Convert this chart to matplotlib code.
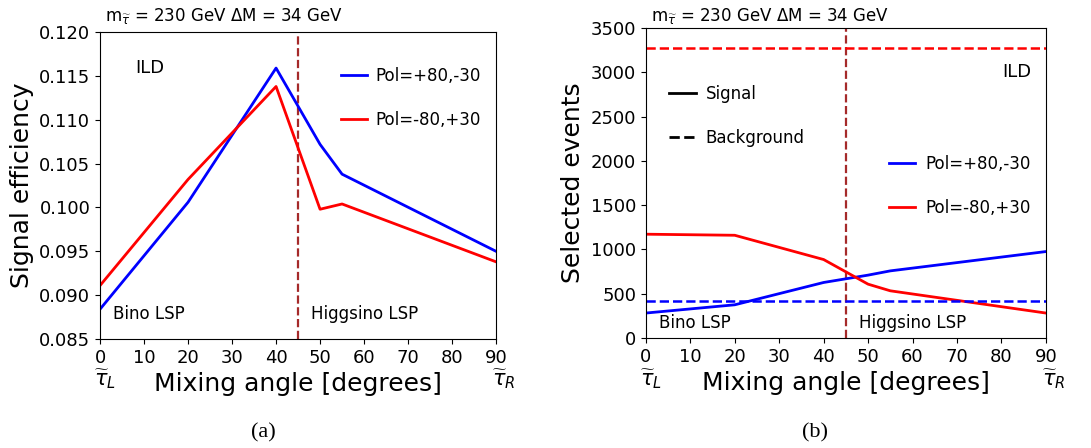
import matplotlib.pyplot as plt
import matplotlib.transforms as mtransforms
import numpy as np

angle = [0, 20, 40, 50, 55, 90]

# signal efficiency
eff_pos = [0.0884, 0.1006, 0.1159, 0.1072, 0.1038, 0.0950]
eff_neg = [0.0911, 0.1032, 0.1138, 0.0998, 0.1004, 0.0938]

# selected events
sig_pos = [282, 375, 627, 710, 758, 976]
sig_neg = [1172, 1160, 886, 608, 533, 282]
bkg_pos = 413
bkg_neg = 3275

lsp_border = 45
xtick_vals = np.arange(0, 91, 10)
eff_ticks = np.arange(0.085, 0.1201, 0.005)
evt_ticks = np.arange(0, 3501, 500)
title = "m$_{\\widetilde{\\tau}}$ = 230 GeV $\\Delta$M = 34 GeV"

fig = plt.figure(figsize=(10.91, 4.48), dpi=100)
ax1 = fig.add_axes([0.0917, 0.2433, 0.363, 0.685])
ax2 = fig.add_axes([0.592, 0.2455, 0.3666, 0.692])

for ax in (ax1, ax2):
    ax.axvline(lsp_border, color="#a52a2a", ls="--", lw=1.6)
    ax.set_xlim(0, 90)
    ax.set_xticks(xtick_vals)
    ax.tick_params(labelsize=13)
    ax.set_xlabel("Mixing angle [degrees]", fontsize=18, labelpad=4)
    # stau chirality states under the axis ends
    trans = mtransforms.blended_transform_factory(ax.transData, ax.transAxes)
    ax.text(1.1, -0.132, "$\\widetilde{\\tau}_L$", fontsize=15, ha="center", va="center", transform=trans)
    ax.text(91.8, -0.132, "$\\widetilde{\\tau}_R$", fontsize=15, ha="center", va="center", transform=trans)

fig.text(0.0963, 0.964, title, fontsize=12, va="center")
fig.text(0.5967, 0.964, title, fontsize=12, va="center")

# (a) efficiency
ax1.plot(angle, eff_pos, color="blue", lw=2, label="Pol=+80,-30")
ax1.plot(angle, eff_neg, color="red", lw=2, label="Pol=-80,+30")
ax1.set_ylim(0.085, 0.120)
ax1.set_yticks(eff_ticks)
ax1.set_yticklabels(["%.3f" % v for v in eff_ticks])
ax1.set_ylabel("Signal efficiency", fontsize=18, labelpad=4)
ax1.text(8, 0.1153, "ILD", fontsize=13)
ax1.text(3, 0.0873, "Bino LSP", fontsize=12)
ax1.text(48, 0.0873, "Higgsino LSP", fontsize=12)
ax1.legend(loc="upper right", frameon=False, fontsize=12, labelspacing=1.55,
           handlelength=1.6, handletextpad=0.5, bbox_to_anchor=(1.0, 0.936))

# (b) selected events
ax2.plot(angle, sig_pos, color="blue", lw=2)
ax2.plot(angle, sig_neg, color="red", lw=2)
ax2.axhline(bkg_pos, color="blue", ls="--", lw=1.8)
ax2.axhline(bkg_neg, color="red", ls="--", lw=1.8)
ax2.set_ylim(0, 3500)
ax2.set_yticks(evt_ticks)
ax2.set_ylabel("Selected events", fontsize=18, labelpad=4)
ax2.text(83.5, 3000, "ILD", fontsize=13, ha="center", va="center")
ax2.text(3, 110, "Bino LSP", fontsize=12)
ax2.text(48, 110, "Higgsino LSP", fontsize=12)

h_sig, = ax2.plot([], [], color="black", lw=2, label="Signal")
h_bkg, = ax2.plot([], [], color="black", ls="--", lw=2, label="Background")
leg1 = ax2.legend(handles=[h_sig, h_bkg], loc="upper left", frameon=False, fontsize=12,
                  labelspacing=1.55, handlelength=1.6, handletextpad=0.6,
                  bbox_to_anchor=(0.02, 0.864))
ax2.add_artist(leg1)
h_pos, = ax2.plot([], [], color="blue", lw=2, label="Pol=+80,-30")
h_neg, = ax2.plot([], [], color="red", lw=2, label="Pol=-80,+30")
ax2.legend(handles=[h_pos, h_neg], loc="upper right", frameon=False, fontsize=12,
           labelspacing=1.55, handlelength=1.6, handletextpad=0.6,
           bbox_to_anchor=(1.0, 0.639))

fig.text(0.241, 0.0335, "(a)", fontsize=16, family="Liberation Serif", ha="center", va="center")
fig.text(0.747, 0.0335, "(b)", fontsize=16, family="Liberation Serif", ha="center", va="center")

fig.savefig("out.png", dpi=100)
